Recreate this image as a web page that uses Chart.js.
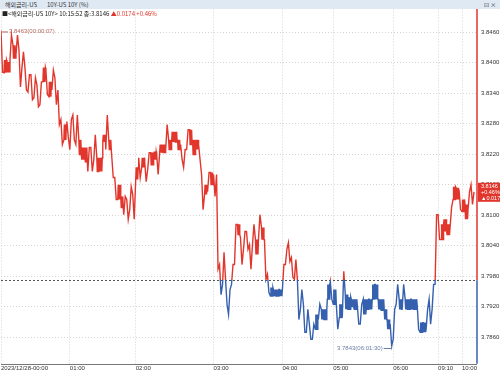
<!DOCTYPE html>
<html>
<head>
<meta charset="utf-8">
<script src="https://cdn.jsdelivr.net/npm/chart.js@4"></script>
<style>
  body { margin: 0; width: 500px; height: 373px; overflow: hidden; background: #fff; font-family: "Noto Sans CJK KR", sans-serif; position: relative; }
  #bar { position: absolute; left: 0; top: 0; width: 500px; height: 9px; background: #dfe9f4; font-size: 6px; line-height: 9px; color: #333; white-space: nowrap; z-index: 2; }
  #bar span { position: absolute; top: 0; }
  #info { position: absolute; left: 2px; top: 9px; height: 10px; font-size: 6px; line-height: 10px; color: #222; white-space: nowrap; z-index: 2; }
  #info .up { color: #e0342a; }
  #chart { position: absolute; left: 0; top: 1px; }
</style>
</head>
<body>
<div id="bar"><span style="left:5px">해외금리-US</span><span style="left:47px">10Y-US 10Y (%)</span><span style="left:484px">⊡ ×</span></div>
<div id="info">■&lt;해외금리-US 10Y&gt; 10:15:52 종:3.8146 <span class="up">▲0.0174 +0.46%</span></div>
<canvas id="chart" width="500" height="372"></canvas>
<script>
// per-column range of the quote (high / low within each tick column)
const colHigh = [
  3.8463, 3.8405, 3.8401, 3.8454, 3.8434, 3.8454, 3.8425, 3.8421, 3.8390, 3.8376,
  3.8376, 3.8370, 3.8356, 3.8362, 3.8390, 3.8385, 3.8362, 3.8385, 3.8370, 3.8346,
  3.8288, 3.8278, 3.8284, 3.8288, 3.8297, 3.8297, 3.8248, 3.8233, 3.8233, 3.8233,
  3.8233, 3.8258, 3.8213, 3.8213, 3.8258, 3.8297, 3.8248, 3.8229, 3.8174, 3.8160,
  3.8137, 3.8137, 3.8131, 3.8156, 3.8141, 3.8194, 3.8213, 3.8213, 3.8205, 3.8223,
  3.8223, 3.8225, 3.8219, 3.8239, 3.8239, 3.8278, 3.8248, 3.8264, 3.8264, 3.8248,
  3.8239, 3.8229, 3.8268, 3.8268, 3.8248, 3.8248, 3.8239, 3.8180, 3.8160, 3.8184,
  3.8184, 3.8180, 3.8180, 3.8003, 3.8027, 3.7974, 3.7954, 3.8003, 3.8082, 3.8082,
  3.8056, 3.8068, 3.8068, 3.8042, 3.8082, 3.8052, 3.8101, 3.8076, 3.8052, 3.7984,
  3.7958, 3.7954, 3.7954, 3.7954, 3.8003, 3.8033, 3.8046, 3.8017, 3.8013, 3.7974,
  3.7954, 3.7925, 3.7915, 3.7886, 3.7886, 3.7905, 3.7925, 3.7915, 3.7915, 3.7964,
  3.7970, 3.7954, 3.7925, 3.7925, 3.7990, 3.7944, 3.7939, 3.7935, 3.7935, 3.7925,
  3.7925, 3.7935, 3.7935, 3.7935, 3.7964, 3.7964, 3.7935, 3.7935, 3.7915, 3.7895,
  3.7886, 3.7915, 3.7964, 3.7935, 3.7964, 3.7935, 3.7935, 3.7935, 3.7935, 3.7925,
  3.7889, 3.7889, 3.7915, 3.7935, 3.7964, 3.8101, 3.8101, 3.8082, 3.8092, 3.8082,
  3.8115, 3.8156, 3.8154, 3.8150, 3.8131, 3.8121, 3.8146, 3.8160
];
const colLow = [
  3.8381, 3.8380, 3.8382, 3.8405, 3.8409, 3.8415, 3.8352, 3.8390, 3.8346, 3.8342,
  3.8327, 3.8331, 3.8313, 3.8317, 3.8362, 3.8337, 3.8333, 3.8346, 3.8317, 3.8278,
  3.8239, 3.8248, 3.8252, 3.8229, 3.8248, 3.8239, 3.8219, 3.8209, 3.8205, 3.8186,
  3.8186, 3.8209, 3.8186, 3.8186, 3.8244, 3.8229, 3.8229, 3.8174, 3.8131, 3.8131,
  3.8115, 3.8101, 3.8092, 3.8111, 3.8092, 3.8170, 3.8174, 3.8194, 3.8166, 3.8190,
  3.8199, 3.8209, 3.8180, 3.8223, 3.8223, 3.8229, 3.8229, 3.8244, 3.8244, 3.8229,
  3.8209, 3.8194, 3.8229, 3.8239, 3.8219, 3.8229, 3.8209, 3.8111, 3.8141, 3.8146,
  3.8160, 3.8137, 3.7994, 3.7944, 3.7964, 3.7925, 3.7905, 3.7964, 3.8003, 3.8062,
  3.8003, 3.8033, 3.8033, 3.7994, 3.8042, 3.8023, 3.8052, 3.8052, 3.7974, 3.7948,
  3.7941, 3.7941, 3.7941, 3.7941, 3.7954, 3.8003, 3.8009, 3.7978, 3.7974, 3.7895,
  3.7915, 3.7870, 3.7870, 3.7856, 3.7856, 3.7876, 3.7895, 3.7895, 3.7895, 3.7935,
  3.7935, 3.7925, 3.7876, 3.7899, 3.7899, 3.7915, 3.7915, 3.7919, 3.7915, 3.7886,
  3.7886, 3.7905, 3.7915, 3.7915, 3.7935, 3.7935, 3.7915, 3.7913, 3.7895, 3.7876,
  3.7843, 3.7856, 3.7925, 3.7915, 3.7915, 3.7915, 3.7915, 3.7915, 3.7915, 3.7876,
  3.7870, 3.7870, 3.7876, 3.7886, 3.7915, 3.7964, 3.8052, 3.8052, 3.8068, 3.8062,
  3.8076, 3.8131, 3.8131, 3.8111, 3.8107, 3.8092, 3.8111, 3.8121
];
const lastPrice = 3.8146;
const prevClose = 3.7972;
const change = "▲0.0174";
const changePct = "+0.46%";
const highLabel = "3.8463(00:00:07)";
const lowLabel = "3.7843(06:01:30)";

const tickAt = [0, 23, 45, 71, 94, 111, 131, 146, 154];
const tickLabels = ["2023/12/28-00:00", "01:00", "02:00", "03:00", "04:00", "05:00", "06:00", "09:10", "10:00"];
const yTicks = [3.7860, 3.7920, 3.7980, 3.8040, 3.8100, 3.8160, 3.8220, 3.8280, 3.8340, 3.8400, 3.8460];

const RED = "#e2352b";
const BLUE = "#3560ad";

// flatten the column ranges into one line, visiting the nearer extreme first;
// narrow ranges are churned back and forth so they read as solid blocks
const points = [];
let prev = null;
colHigh.forEach((h, i) => {
  const l = colLow[i];
  const pair = prev === null || Math.abs(prev - h) <= Math.abs(prev - l) ? [h, l] : [l, h];
  const steps = h - l <= 0.003 ? 6 : 2;
  for (let k = 0; k < steps; k++) {
    points.push({ x: i + k / steps, y: pair[k % 2] });
  }
  prev = pair[(steps - 1) % 2];
});
points.push({ x: colHigh.length, y: lastPrice });

function splitColor(ctx) {
  const chart = ctx.chart;
  const area = chart.chartArea;
  if (!area) return RED;
  const yb = chart.scales.y.getPixelForValue(prevClose);
  const f = Math.min(1, Math.max(0, (yb - area.top) / (area.bottom - area.top)));
  const g = chart.ctx.createLinearGradient(0, area.top, 0, area.bottom);
  g.addColorStop(0, RED);
  g.addColorStop(f, RED);
  g.addColorStop(f, BLUE);
  g.addColorStop(1, BLUE);
  return g;
}

const extras = {
  id: "extras",
  beforeDatasetsDraw(chart) {
    const { ctx, chartArea: a, scales } = chart;
    const yb = scales.y.getPixelForValue(prevClose);
    ctx.save();
    ctx.strokeStyle = "#555";
    ctx.lineWidth = 1;
    ctx.setLineDash([2, 2]);
    ctx.beginPath();
    ctx.moveTo(a.left, Math.round(yb) + 0.5);
    ctx.lineTo(a.right, Math.round(yb) + 0.5);
    ctx.stroke();
    ctx.restore();
  },
  afterDraw(chart) {
    const { ctx, chartArea: a, scales } = chart;
    const x = scales.x, y = scales.y;
    const yb = y.getPixelForValue(prevClose);
    ctx.save();
    // bottom axis line
    ctx.strokeStyle = "#777";
    ctx.lineWidth = 1;
    ctx.beginPath();
    ctx.moveTo(a.left, Math.round(a.bottom) + 0.5);
    ctx.lineTo(a.right, Math.round(a.bottom) + 0.5);
    ctx.stroke();
    // right axis, red above the previous close, blue below
    ctx.lineWidth = 1.5;
    ctx.strokeStyle = RED;
    ctx.beginPath();
    ctx.moveTo(a.right, a.top);
    ctx.lineTo(a.right, yb);
    ctx.stroke();
    ctx.strokeStyle = BLUE;
    ctx.beginPath();
    ctx.moveTo(a.right, yb);
    ctx.lineTo(a.right, a.bottom);
    ctx.stroke();

    // high / low markers
    let hiP = points[0], loP = points[0];
    points.forEach(p => { if (p.y > hiP.y) hiP = p; if (p.y < loP.y) loP = p; });
    ctx.font = '6px "Liberation Sans Narrow", "Liberation Sans"';
    ctx.textBaseline = "middle";
    ctx.lineWidth = 1;
    let px = x.getPixelForValue(hiP.x), py = y.getPixelForValue(hiP.y) + 1;
    ctx.strokeStyle = "#b86a60";
    ctx.beginPath(); ctx.moveTo(px + 1, py + 0.5); ctx.lineTo(px + 7, py + 0.5); ctx.stroke();
    ctx.fillStyle = "#b86a60";
    ctx.textAlign = "left";
    ctx.fillText(highLabel, px + 8, py);
    px = x.getPixelForValue(loP.x); py = y.getPixelForValue(loP.y) + 2;
    ctx.strokeStyle = "#6c7fa6";
    ctx.beginPath(); ctx.moveTo(px - 8, py + 0.5); ctx.lineTo(px, py + 0.5); ctx.lineTo(px, py - 2); ctx.stroke();
    ctx.fillStyle = "#6c7fa6";
    ctx.textAlign = "right";
    ctx.fillText(lowLabel, px - 9, py);

    // last price box
    const yl = y.getPixelForValue(lastPrice);
    ctx.fillStyle = RED;
    ctx.fillRect(a.right + 1, yl - 9, chart.width - a.right - 1, 19);
    ctx.fillStyle = "#fff";
    ctx.textAlign = "left";
    ctx.font = '5.5px "Liberation Sans Narrow", "Liberation Sans"';
    ctx.fillText(lastPrice.toFixed(4), a.right + 4, yl - 5);
    ctx.fillText(changePct, a.right + 4, yl + 1);
    ctx.fillText(change, a.right + 4, yl + 6.5);
    ctx.restore();
  }
};

new Chart(document.getElementById("chart"), {
  type: "line",
  data: {
    datasets: [
      {
        label: "10Y-US 10Y",
        data: points,
        borderColor: splitColor,
        borderWidth: 1.4,
        pointRadius: 0,
        tension: 0,
      },
    ],
  },
  options: {
    responsive: false,
    animation: false,
    layout: { padding: 0 },
    plugins: {
      legend: { display: false },
      tooltip: { enabled: false },
    },
    scales: {
      x: {
        type: "linear",
        min: 0,
        max: 159,
        afterBuildTicks: (s) => { s.ticks = tickAt.map(v => ({ value: v })); },
        ticks: {
          autoSkip: false,
          maxRotation: 0,
          align: "start",
          padding: 1,
          color: "#333",
          font: { family: '"Liberation Sans Narrow", "Liberation Sans"', size: 6 },
          callback: (v) => tickLabels[tickAt.indexOf(v)],
        },
        grid: { color: "#d4d4d4", drawTicks: false },
        border: { display: false, dash: [1, 2] },
      },
      y: {
        position: "right",
        min: 3.7808,
        max: 3.8506,
        afterBuildTicks: (s) => { s.ticks = yTicks.map(v => ({ value: v })); },
        afterFit: (s) => { s.width = 23; },
        ticks: {
          padding: 4,
          color: "#333",
          font: { family: '"Liberation Sans Narrow", "Liberation Sans"', size: 6 },
          callback: (v) => v.toFixed(4),
        },
        grid: { color: "#d4d4d4", drawTicks: false },
        border: { display: false, dash: [1, 2] },
      },
    },
  },
  plugins: [extras],
});
</script>
</body>
</html>
